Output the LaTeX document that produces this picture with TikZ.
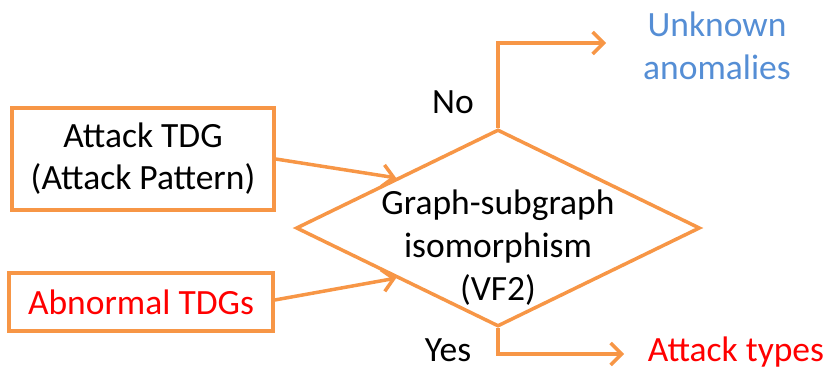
\documentclass[tikz,border=0pt]{standalone}
\usepackage{fontspec}
\setmainfont{Carlito}
\usetikzlibrary{shapes.geometric,arrows.meta}
\definecolor{orng}{HTML}{F79646}
\definecolor{blu}{HTML}{558ED5}
\definecolor{rd}{HTML}{FF0000}
\tikzset{
  box/.style={draw=orng, line width=3.5pt, inner sep=0pt, align=center, font=\fontsize{35.5}{42}\selectfont},
  dia/.style={draw=orng, line width=3.5pt, diamond, inner sep=0pt, minimum width=404pt, minimum height=197pt},
  txt/.style={inner sep=0pt, align=center, font=\fontsize{35.5}{43}\selectfont},
  arr/.style={draw=orng, line width=3.5pt, -{Straight Barb[length=11pt,width=22pt,line width=3.5pt]}},
}
\begin{document}
\begin{tikzpicture}[x=1pt,y=-1pt]
\useasboundingbox (0,0) rectangle (825,372);
\node[box, minimum width=262pt, minimum height=102pt] (atk) at (143,159) {Attack TDG\\(Attack Pattern)};
\node[box, minimum width=264pt, minimum height=58pt, text=rd] (abn) at (141,302) {Abnormal TDGs};
\node[dia] (dec) at (498,228) {};
\node[txt] (dectxt) at (498,248) {Graph-subgraph\\isomorphism\\(VF2)};
\node[txt, text=blu] (unk) at (717,46) {Unknown\\anomalies};
\node[txt, text=rd] (typ) at (736,352) {Attack types};
\node[txt] (no) at (453,102) {No};
\node[txt] (yes) at (448,350) {Yes};
\coordinate (noend) at (606,43);
\coordinate (yesend) at (624,354);
\draw[arr] (atk.east) -- (dec.north west);
\draw[arr] (abn.east |- 0,300) -- (dec.south west);
\draw[arr] (dec.north) |- (noend);
\draw[arr] (dec.south) |- (yesend);
\end{tikzpicture}
\end{document}
